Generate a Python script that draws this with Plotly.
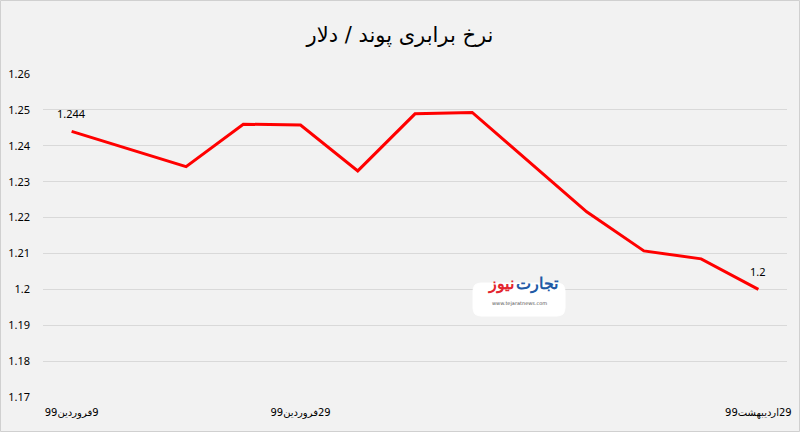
import plotly.graph_objects as go

# Data
categories = ["9فروردین99", "d2", "d3", "d4", "29فروردین99", "d6", "d7", "d8",
              "d9", "d10", "d11", "d12", "29اردیبهشت99"]
rates = [1.244, 1.2391, 1.2342, 1.2460, 1.2458, 1.2330, 1.2489, 1.2493,
         1.2355, 1.2216, 1.2107, 1.2085, 1.200]
shown_ticks = ["9فروردین99", "29فروردین99", "29اردیبهشت99"]
y_ticks = [1.17, 1.18, 1.19, 1.20, 1.21, 1.22, 1.23, 1.24, 1.25, 1.26]
y_tick_labels = ["1.17", "1.18", "1.19", "1.2", "1.21", "1.22", "1.23", "1.24", "1.25", "1.26"]
title_text = "نرخ برابری پوند / دلار"
point_labels = {0: "1.244", 12: "1.2"}

idx = list(range(len(categories)))
RLE, PDF = "\u202B", "\u202C"

L, R, T, B = 43, 13, 74, 35
PW, PH = 800 - L - R, 432 - T - B

def px(x):
    return (x - L) / PW

def py(y):
    return (432 - B - y) / PH

fig = go.Figure()
fig.add_trace(go.Scatter(
    x=idx, y=rates, mode="lines",
    line=dict(color="#ff0000", width=3),
    hoverinfo="skip", showlegend=False,
))

for i, t in point_labels.items():
    fig.add_annotation(x=i, y=rates[i], text=t, showarrow=False, yshift=18,
                       font=dict(family="Noto Sans", size=11, color="#000000"))

tick_idx = [categories.index(t) for t in shown_ticks]

fig.update_layout(
    width=800, height=432,
    paper_bgcolor="#f2f2f2", plot_bgcolor="#f2f2f2",
    margin=dict(l=L, r=R, t=T, b=B, autoexpand=False),
    title=dict(text=title_text, x=0.5, xanchor="center", xref="container",
               y=1 - 35 / 432, yref="container", yanchor="middle",
               font=dict(family="DejaVu Sans", size=21, color="#000000")),
    xaxis=dict(range=[-0.5, len(categories) - 0.5], tickvals=tick_idx,
               ticktext=[RLE + t + PDF for t in shown_ticks],
               showgrid=False, zeroline=False, showline=False, ticks="",
               automargin=False, ticklabelstandoff=8,
               tickfont=dict(family="DejaVu Sans", size=10, color="#000000")),
    yaxis=dict(range=[1.17, 1.26], tickvals=y_ticks, ticktext=y_tick_labels,
               showgrid=True, gridcolor="#d9d9d9", gridwidth=1, zeroline=False,
               showline=False, ticks="", ticklabelstandoff=12, automargin=False,
               tickfont=dict(family="Noto Sans", size=11, color="#000000")),
)

# Frame around whole chart
fig.add_shape(type="rect", xref="paper", yref="paper",
              x0=px(0.5), x1=px(799.5), y0=py(431.5), y1=py(0.5),
              line=dict(color="#d0d0d0", width=1), fillcolor="rgba(0,0,0,0)")

# Watermark logo box (rounded)
x0, x1, y0, y1, r = 473, 565, 283, 316, 8
path = (f"M {px(x0+r)},{py(y0)} L {px(x1-r)},{py(y0)} Q {px(x1)},{py(y0)} {px(x1)},{py(y0+r)} "
        f"L {px(x1)},{py(y1-r)} Q {px(x1)},{py(y1)} {px(x1-r)},{py(y1)} "
        f"L {px(x0+r)},{py(y1)} Q {px(x0)},{py(y1)} {px(x0)},{py(y1-r)} "
        f"L {px(x0)},{py(y0+r)} Q {px(x0)},{py(y0)} {px(x0+r)},{py(y0)} Z")
fig.add_shape(type="path", xref="paper", yref="paper", path=path,
              line=dict(color="#ffffff", width=1), fillcolor="#ffffff", layer="above")
fig.add_annotation(xref="paper", yref="paper", x=px(537), y=py(296),
                   text="<b>تجارت</b>", showarrow=False,
                   font=dict(family="Noto Sans", size=16, color="#1f5aa6"))
fig.add_annotation(xref="paper", yref="paper", x=px(501), y=py(296),
                   text="<b>نیوز</b>", showarrow=False,
                   font=dict(family="Noto Sans", size=16, color="#e3262f"))
fig.add_annotation(xref="paper", yref="paper", x=px(519), y=py(309),
                   text="www.tejaratnews.com", showarrow=False,
                   font=dict(family="DejaVu Sans", size=5, color="#555555"))

fig.write_html("out.html", config={"displayModeBar": False},
               post_script="document.body.style.margin='0';document.body.style.overflow='hidden';")
